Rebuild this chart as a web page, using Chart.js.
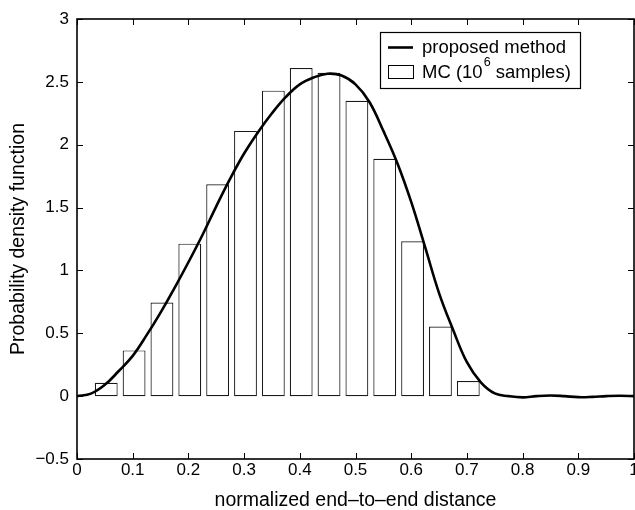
<!DOCTYPE html>
<html><head><meta charset="utf-8">
<script src="https://cdn.jsdelivr.net/npm/chart.js@4.4.1/dist/chart.umd.min.js"></script>
<style>html,body{margin:0;padding:0;background:#fff;overflow:hidden;}</style>
</head><body>
<canvas id="c" width="635" height="510"></canvas>
<script>
// ---- data ----
const binCenters = [0.0525,0.1025,0.1525,0.2025,0.2525,0.3025,0.3525,0.4025,0.4525,0.5025,0.5525,0.6025,0.6525,0.7025];
const mcDensity  = [0.106,0.364,0.745,1.213,1.686,2.11,2.43,2.61,2.573,2.35,1.888,1.232,0.553,0.121];
const curveX = [0,0.025,0.05,0.075,0.1,0.125,0.15,0.175,0.2,0.225,0.25,0.275,0.3,0.325,0.35,0.375,0.4,0.425,0.45,0.475,0.5,0.525,0.55,0.575,0.6,0.625,0.65,0.675,0.7,0.725,0.75,0.775,0.8,0.825,0.85,0.875,0.9,0.925,0.95,0.975,1.0];
const curveY = [0,0.02,0.09,0.2,0.32,0.485,0.665,0.86,1.065,1.28,1.51,1.73,1.93,2.1,2.25,2.38,2.48,2.535,2.565,2.55,2.48,2.34,2.11,1.855,1.545,1.185,0.82,0.53,0.27,0.11,0.022,0.0,-0.01,0.0,0.005,0.0,-0.008,-0.006,0.0,0.003,0];
const xTicks = [0,0.1,0.2,0.3,0.4,0.5,0.6,0.7,0.8,0.9,1];
const xTickLabels = ['0','0.1','0.2','0.3','0.4','0.5','0.6','0.7','0.8','0.9','1'];
const yTicks = [-0.5,0,0.5,1,1.5,2,2.5,3];
const yTickLabels = ['\u22120.5','0','0.5','1','1.5','2','2.5','3'];
const lineLabel = 'proposed method';
const barLabelParts = ['MC (10','6',' samples)'];
const xTitle = 'normalized end\u2013to\u2013end distance';
const yTitle = 'Probability density function';

const FONT = "'Liberation Sans', Arial, Helvetica, sans-serif";

const boxPlugin = {
  id: 'matlabBox',
  afterDraw(chart) {
    const {ctx, chartArea: a, scales} = chart;
    ctx.save();
    ctx.strokeStyle = '#000';
    ctx.lineWidth = 1;
    const tl = 6;
    ctx.beginPath();
    scales.x.ticks.forEach(t => {
      const px = Math.round(scales.x.getPixelForValue(t.value)) + 0.5;
      ctx.moveTo(px, a.bottom); ctx.lineTo(px, a.bottom - tl);
      ctx.moveTo(px, a.top); ctx.lineTo(px, a.top + tl);
    });
    scales.y.ticks.forEach(t => {
      const py = Math.round(scales.y.getPixelForValue(t.value)) + 0.5;
      ctx.moveTo(a.left, py); ctx.lineTo(a.left + tl, py);
      ctx.moveTo(a.right, py); ctx.lineTo(a.right - tl, py);
    });
    ctx.stroke();
    ctx.lineWidth = 1.6;
    ctx.strokeRect(a.left, a.top, a.right - a.left, a.bottom - a.top);

    // legend
    const lx = 380, ly = 32, lw = 200, lh = 56;
    ctx.fillStyle = '#fff';
    ctx.fillRect(lx, ly, lw, lh);
    ctx.lineWidth = 1.2;
    ctx.strokeRect(lx + 0.5, ly + 0.5, lw, lh);
    ctx.lineWidth = 2.6;
    ctx.beginPath(); ctx.moveTo(388, 47.5); ctx.lineTo(413, 47.5); ctx.stroke();
    ctx.lineWidth = 1;
    ctx.strokeRect(388.5, 65.5, 25, 13);
    ctx.fillStyle = '#000';
    ctx.textBaseline = 'alphabetic';
    ctx.textAlign = 'left';
    ctx.font = '18.5px ' + FONT;
    ctx.fillText(lineLabel, 422, 53);
    let x = 422;
    ctx.fillText(barLabelParts[0], x, 77.5);
    x += ctx.measureText(barLabelParts[0]).width + 1;
    ctx.font = '12.5px ' + FONT;
    ctx.fillText(barLabelParts[1], x, 65.5);
    x += ctx.measureText(barLabelParts[1]).width;
    ctx.font = '18.5px ' + FONT;
    ctx.fillText(barLabelParts[2], x, 77.5);
    ctx.restore();
  }
};

new Chart(document.getElementById('c'), {
  type: 'bar',
  data: {
    datasets: [
      {
        type: 'line',
        label: lineLabel,
        data: curveX.map((v, i) => ({x: v, y: curveY[i]})),
        borderColor: '#000',
        borderWidth: 2.6,
        pointRadius: 0,
        tension: 0.4,
        fill: false,
        order: 0
      },
      {
        type: 'bar',
        label: barLabelParts.join(''),
        data: binCenters.map((v, i) => ({x: v, y: mcDensity[i]})),
        backgroundColor: '#fff',
        borderColor: '#1a1a1a',
        borderWidth: 1.2,
        borderSkipped: false,
        barPercentage: 0.82,
        categoryPercentage: 1,
        order: 1
      }
    ]
  },
  options: {
    responsive: false,
    animation: false,
    events: [],
    layout: {padding: {top: 19, right: 1, left: 0, bottom: 0}},
    plugins: {legend: {display: false}, tooltip: {enabled: false}},
    scales: {
      x: {
        type: 'linear', min: 0, max: 1, offset: false,
        afterBuildTicks: s => { s.ticks = xTicks.map(v => ({value: v})); },
        afterFit: s => { s.height = 51; s.paddingLeft = 0; s.paddingRight = 0; },
        grid: {display: false, drawTicks: false, offset: false},
        border: {display: false},
        ticks: {
          padding: 1, color: '#000', maxRotation: 0, autoSkip: false,
          font: {family: FONT, size: 17},
          callback: (v, i) => xTickLabels[i]
        },
        title: {display: true, text: xTitle, color: '#000', padding: {top: 0, bottom: 0},
          font: {family: FONT, size: 19.5, lineHeight: 1}}
      },
      y: {
        type: 'linear', min: -0.5, max: 3,
        afterBuildTicks: s => { s.ticks = yTicks.map(v => ({value: v})); },
        afterFit: s => { s.width = 77; s.paddingTop = 0; s.paddingBottom = 0; },
        grid: {display: false, drawTicks: false},
        border: {display: false},
        ticks: {
          padding: 8, color: '#000', autoSkip: false,
          font: {family: FONT, size: 17},
          callback: (v, i) => yTickLabels[i]
        },
        title: {display: true, text: yTitle, color: '#000', padding: {top: 9, bottom: 0},
          font: {family: FONT, size: 19.5, lineHeight: 1}}
      }
    }
  },
  plugins: [boxPlugin]
});
</script>
</body></html>
